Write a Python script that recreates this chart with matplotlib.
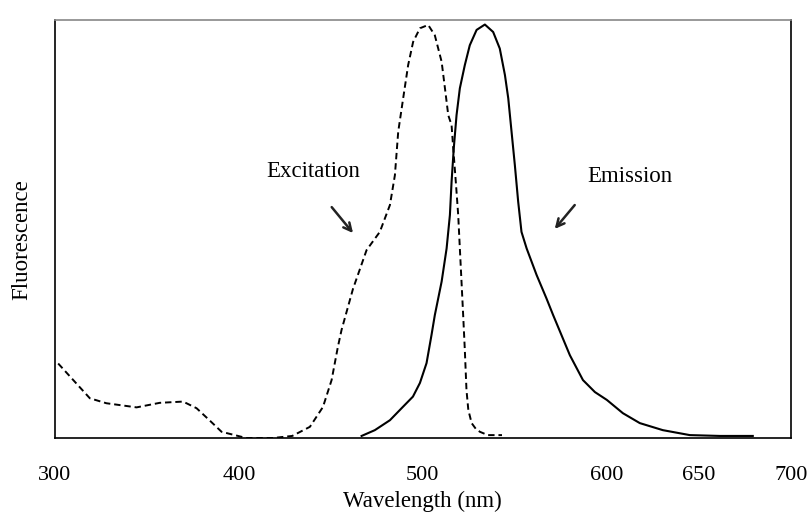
import matplotlib.pyplot as plt

plt.rcParams['font.family'] = ['Liberation Serif', 'DejaVu Serif']

# excitation spectrum (dashed)
ex_wl = [301.8, 319, 328, 344.4, 357, 369.7, 377, 384, 390.6, 404, 418.5, 429,
         438.6, 445.7, 450.4, 453.8, 455.8, 462, 469.4, 476.6, 482.1, 484.8, 486.6,
         489.3, 492.0, 494.7, 498.4, 502.9, 506.5, 510.2, 512.0, 513.8, 515.6, 516.5,
         517.9, 519.2, 520.1, 521.0, 521.9, 522.8, 523.7, 524.7, 526.5, 528.8, 531,
         535.3, 543]
ex_val = [0.180, 0.096, 0.084, 0.074, 0.085, 0.088, 0.072, 0.043, 0.015, 0.0, 0.0, 0.005,
          0.027, 0.075, 0.14, 0.22, 0.261, 0.36, 0.454, 0.498, 0.563, 0.635, 0.740,
          0.821, 0.901, 0.957, 0.990, 0.998, 0.973, 0.909, 0.845, 0.780, 0.756, 0.700,
          0.619, 0.539, 0.458, 0.378, 0.297, 0.213, 0.116, 0.068, 0.036, 0.022, 0.015,
          0.007, 0.007]

# emission spectrum (solid)
em_wl = [466.7, 473.9, 482.1, 489.1, 494.6, 498.4, 502.0, 504.7, 506.5, 510.2, 512.9,
         514.7, 515.6, 516.8, 518.3, 520.1, 522.8, 525.5, 529.2, 533.7, 538.2, 541.8,
         544.6, 546.4, 548.2, 550.0, 551.8, 553.6, 556.4, 561.8, 567.2, 570.8, 579.9,
         587, 593.5, 600, 608.7, 617.9, 630.4, 645.1, 661.4, 679.3]
em_val = [0.005, 0.019, 0.043, 0.075, 0.100, 0.133, 0.181, 0.249, 0.297, 0.378, 0.458,
          0.539, 0.619, 0.700, 0.780, 0.845, 0.901, 0.949, 0.986, 0.999, 0.981, 0.941,
          0.877, 0.821, 0.740, 0.659, 0.571, 0.498, 0.458, 0.394, 0.337, 0.297, 0.2,
          0.14, 0.111, 0.092, 0.060, 0.036, 0.019, 0.007, 0.005, 0.005]

xticks = [300, 400, 500, 600, 650, 700]

fig = plt.figure(figsize=(8.07, 5.15), dpi=100)
ax = fig.add_axes([0.068, 0.1495, 0.912, 0.8117])

ax.plot(ex_wl, ex_val, color='black', lw=1.4, linestyle=(0, (3.3, 2)))
ax.plot(em_wl, em_val, color='black', lw=1.5)

ax.set_xlim(300, 700)
ax.set_ylim(0, 1.01)
ax.set_yticks([])
ax.set_xticks(xticks)
ax.set_xticklabels([str(t) for t in xticks], fontsize=16)
ax.tick_params(axis='x', which='major', length=0, pad=20)
ax.set_xticks([300, 700], minor=True)
ax.tick_params(axis='x', which='minor', length=6, width=1.2, direction='out')

for s in ax.spines.values():
    s.set_linewidth(1.2)
ax.spines['top'].set_color('#888888')

ax.set_xlabel('Wavelength (nm)', fontsize=16.5, labelpad=4)
ax.set_ylabel('Fluorescence', fontsize=16.5)
ax.yaxis.set_label_coords(-0.03, 0.474)

# labels with arrows
ax.text(440.2, 0.645, 'Excitation', fontsize=16.5, ha='center', va='center')
ax.annotate('', xy=(463, 0.49), xytext=(449.5, 0.563),
            arrowprops=dict(arrowstyle='->', lw=1.8, color='#222222', mutation_scale=14))
ax.text(612.5, 0.632, 'Emission', fontsize=16.5, ha='center', va='center')
ax.annotate('', xy=(570.7, 0.5), xytext=(583.5, 0.568),
            arrowprops=dict(arrowstyle='->', lw=1.8, color='#222222', mutation_scale=14))

fig.savefig('out.png', dpi=100)
